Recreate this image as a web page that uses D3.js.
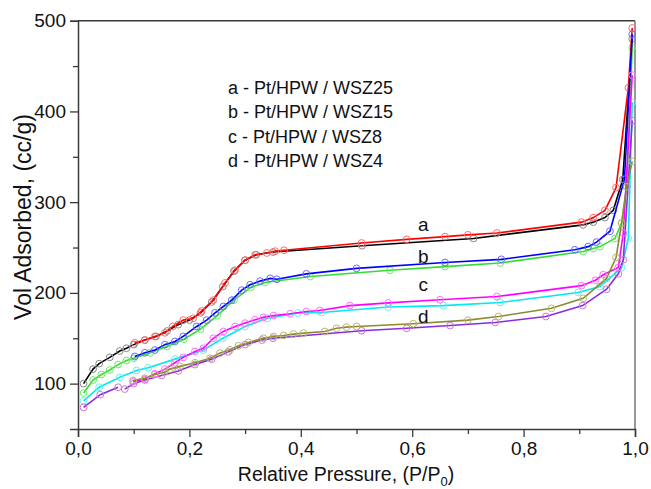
<!DOCTYPE html>
<html>
<head>
<meta charset="utf-8">
<script src="https://cdn.jsdelivr.net/npm/d3@7"></script>
<style>
  html, body { margin: 0; padding: 0; background: #fff; }
  svg { display: block; font-family: "Liberation Sans", Arial, sans-serif; }
</style>
</head>
<body>
<svg id="chart" width="651" height="489"></svg>
<script>
// ---------- data (P/P0, volume cc/g) ----------
const aAdsP = [0.01, 0.027, 0.038, 0.057, 0.075, 0.087, 0.1, 0.12, 0.14, 0.16, 0.18, 0.2, 0.22, 0.24, 0.26, 0.28, 0.3, 0.32, 0.35, 0.51, 0.71, 0.907, 0.925, 0.946, 0.961, 0.978, 0.995];
const aAdsV = [100, 116, 122, 129, 136, 139, 143, 148, 152, 158, 165, 170, 178, 190, 207, 224, 236, 242, 245, 252, 260, 275, 278, 283, 291, 325, 480];
const aDesP = [0.995, 0.988, 0.966, 0.946, 0.925, 0.904, 0.752, 0.7, 0.659, 0.59, 0.509, 0.37, 0.354, 0.339, 0.318, 0.3, 0.282, 0.264, 0.243, 0.222, 0.207, 0.189, 0.17, 0.156, 0.138, 0.12, 0.102];
const aDesV = [492, 426, 316, 291, 283, 278, 266, 264, 262, 259, 255, 247, 246, 244, 242, 236, 225, 211, 192, 180, 172, 170, 163, 156, 152, 148, 145];

const bAdsP = [0.01, 0.027, 0.042, 0.057, 0.072, 0.087, 0.1, 0.13, 0.16, 0.19, 0.22, 0.25, 0.28, 0.31, 0.336, 0.417, 0.56, 0.659, 0.758, 0.907, 0.925, 0.937, 0.964, 0.976, 0.985, 0.995];
const bAdsV = [89.6, 104, 110, 115, 121, 125.5, 128, 134, 141, 149, 160, 175, 192, 206, 211.5, 218, 225, 229, 233, 245.6, 249, 251, 260, 277, 317, 470];
const bDesP = [0.995, 0.981, 0.955, 0.931, 0.916, 0.892, 0.76, 0.659, 0.5, 0.41, 0.357, 0.345, 0.327, 0.309, 0.294, 0.276, 0.261, 0.246, 0.231, 0.213, 0.189, 0.174, 0.156, 0.138, 0.12, 0.102];
const bDesV = [485, 325, 268, 256, 251, 247.5, 237, 233.5, 227, 221, 215, 216, 213, 209, 203, 192, 185, 178, 170, 163, 152, 146.5, 143, 137, 134, 130];

const cAdsP = [0.01, 0.038, 0.075, 0.105, 0.126, 0.174, 0.225, 0.26, 0.3, 0.34, 0.395, 0.437, 0.557, 0.656, 0.758, 0.898, 0.937, 0.976, 0.988, 0.995];
const cAdsV = [81, 96, 107, 114.5, 117.5, 127, 137, 150, 163, 172, 177.8, 178.4, 184.4, 186, 189.4, 200.5, 207, 228, 260, 410];
const cDesP = [0.995, 0.979, 0.97, 0.943, 0.929, 0.904, 0.752, 0.65, 0.557, 0.488, 0.434, 0.41, 0.381, 0.351, 0.333, 0.318, 0.3, 0.282, 0.261, 0.243, 0.225, 0.21, 0.189, 0.174, 0.156, 0.138, 0.12, 0.099];
const cDesV = [440, 266, 228, 220, 214, 208, 196, 192.4, 189, 186, 180.6, 179.5, 177, 175, 173, 170.4, 166.7, 163, 157.5, 150, 139, 135.5, 129, 123, 116, 111, 105, 102];

const dAdsP = [0.01, 0.04, 0.072, null, 0.084, 0.1, 0.12, 0.15, 0.18, 0.21, 0.24, 0.27, 0.3, 0.33, 0.35, 0.509, 0.59, 0.668, 0.749, 0.84, 0.906, 0.949, 0.97, 0.979, 0.995];
const dAdsV = [73.8, 87.8, 96, null, 94, 100, 104, 109, 114, 121, 127, 135, 143, 148, 150, 158.3, 161, 164, 167.4, 174, 186, 204, 221, 236.5, 390];
const dDesP = [0.995, 0.985, 0.976, 0.966, 0.949, 0.907, 0.85, 0.755, 0.7, 0.602, 0.5, 0.482, 0.464, 0.443, 0.405, 0.387, 0.369, 0.351, 0.333, 0.306, 0.288, 0.273, 0.255, 0.237, 0.21, 0.183, 0.165, 0.155, 0.138, 0.12, 0.099];
const dDesV = [345, 317, 277, 239, 216, 194, 183, 174, 170, 166, 163, 162.3, 161, 157.5, 155.7, 154.6, 153, 152, 150, 145.4, 141.7, 137.3, 133.7, 128, 123, 119, 116, 112.5, 110, 106, 103.5];

const seriesNames = ["a-ads", "b-ads", "c-ads", "d-ads", "a-des", "b-des", "c-des", "d-des"];
const lineColors   = ["#000000", "#33dd33", "#00e8f0", "#8a2be2", "#ff0000", "#0000ff", "#ff00ff", "#8b8b2e"];
const markerColors = ["#888888", "#66ee66", "#66f0f0", "#cc77cc", "#ff6a6a", "#6a6aff", "#ff70ff", "#b8b870"];
const seriesP = [aAdsP, bAdsP, cAdsP, dAdsP, aDesP, bDesP, cDesP, dDesP];
const seriesV = [aAdsV, bAdsV, cAdsV, dAdsV, aDesV, bDesV, cDesV, dDesV];

const legendLines = ["a - Pt/HPW / WSZ25", "b - Pt/HPW / WSZ15", "c - Pt/HPW / WSZ8", "d - Pt/HPW / WSZ4"];
const curveLetters = ["a", "b", "c", "d"];
const letterV = [275, 240, 209, 174];
const letterP = 0.62;

const xTicksMajor = [0, 0.2, 0.4, 0.6, 0.8, 1.0];
const xTicksMinor = [0.1, 0.3, 0.5, 0.7, 0.9];
const yTicksMajor = [100, 200, 300, 400, 500];
const yTicksMinor = [150, 250, 350, 450];

// ---------- layout ----------
const svg = d3.select("#chart");
const L = 78, R = 635, T = 20.7, B = 429;
const x = d3.scaleLinear().domain([0, 1]).range([L, R]);
const y = d3.scaleLinear().domain([50, 500]).range([B, T]);
const axisColor = "#3a3a3a";

// frame (top + right)
svg.append("line").attr("x1", L).attr("x2", R).attr("y1", T).attr("y2", T)
  .attr("stroke", axisColor).attr("stroke-width", 1.5);
svg.append("line").attr("x1", R).attr("x2", R).attr("y1", T).attr("y2", B)
  .attr("stroke", "#777").attr("stroke-width", 1.5);

const fmt = d => d3.format(".1f")(d).replace(".", ",");

// bottom axis
svg.append("g").attr("transform", `translate(0,${B})`)
  .call(d3.axisBottom(x).tickValues(xTicksMajor).tickFormat(fmt).tickSize(8).tickPadding(5));
svg.append("g").attr("transform", `translate(0,${B})`)
  .call(d3.axisBottom(x).tickValues(xTicksMinor).tickFormat("").tickSize(5))
  .select(".domain").remove();

// left axis
svg.append("g").attr("transform", `translate(${L},0)`)
  .call(d3.axisLeft(y).tickValues(yTicksMajor).tickFormat(d3.format("d")).tickSize(8).tickPadding(4));
svg.append("g").attr("transform", `translate(${L},0)`)
  .call(d3.axisLeft(y).tickValues(yTicksMinor).tickFormat("").tickSize(5))
  .select(".domain").remove();

svg.selectAll(".domain").attr("stroke", axisColor).attr("stroke-width", 1.5);
svg.selectAll(".tick line").attr("stroke", axisColor).attr("stroke-width", 1.3);
svg.selectAll(".tick text").attr("fill", "#111").style("font-size", "19px")
  .style("font-family", "'Liberation Sans', Arial, sans-serif");

// axis titles
svg.append("text")
  .attr("transform", `translate(31,217) rotate(-90)`)
  .attr("text-anchor", "middle").attr("font-size", 23).attr("fill", "#111")
  .text("Vol Adsorbed, (cc/g)");
const xt = svg.append("text").attr("x", 346).attr("y", 481)
  .attr("text-anchor", "middle").attr("font-size", 19.5).attr("fill", "#111");
xt.append("tspan").text("Relative Pressure, (P/P");
xt.append("tspan").attr("font-size", 13).attr("dy", 5).text("0");
xt.append("tspan").attr("dy", -5).text(")");

// curves
const line = d3.line()
  .defined(d => d[0] !== null)
  .x(d => x(d[0])).y(d => y(d[1]));

seriesNames.forEach((name, i) => {
  const pts = seriesP[i].map((p, j) => [p, seriesV[i][j]]);
  const g = svg.append("g").attr("class", "series " + name);
  g.append("path").datum(pts).attr("d", line)
    .attr("fill", "none").attr("stroke", lineColors[i]).attr("stroke-width", 1.6);
  g.selectAll("circle").data(pts.filter(d => d[0] !== null)).join("circle")
    .attr("cx", d => x(d[0])).attr("cy", d => y(d[1])).attr("r", 3.4)
    .attr("fill", "none").attr("stroke", markerColors[i]).attr("stroke-width", 1);
});

// legend text
svg.append("g").selectAll("text").data(legendLines).join("text")
  .attr("x", 228).attr("y", (d, i) => 94 + i * 24.3)
  .attr("font-size", 18).attr("fill", "#111").text(d => d);

// curve letters
svg.append("g").selectAll("text").data(curveLetters).join("text")
  .attr("x", x(letterP)).attr("y", (d, i) => y(letterV[i]))
  .attr("dominant-baseline", "central").attr("text-anchor", "middle")
  .attr("font-size", 19).attr("fill", "#111").text(d => d);
</script>
</body>
</html>
